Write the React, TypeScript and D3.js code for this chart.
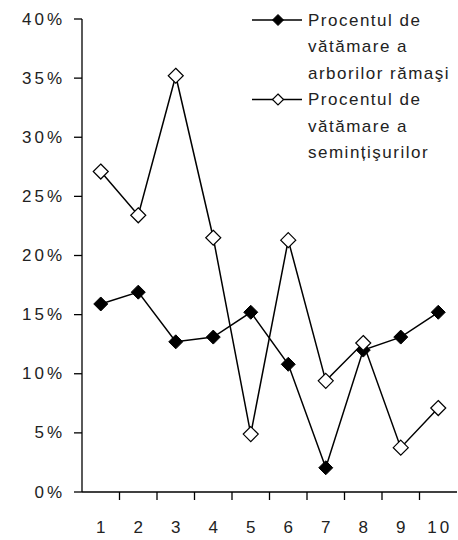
import React from "react";
import * as d3 from "d3";

const categories = ["1", "2", "3", "4", "5", "6", "7", "8", "9", "10"];
const arboriValues = [15.9, 16.9, 12.7, 13.1, 15.2, 10.8, 2.05, 12.0, 13.1, 15.2];
const semintisValues = [27.1, 23.4, 35.2, 21.5, 4.9, 21.3, 9.4, 12.6, 3.75, 7.1];
const yTicks = [0, 5, 10, 15, 20, 25, 30, 35, 40];
const legendSeries1 = ["Procentul de", "vătămare a", "arborilor rămaşi"];
const legendSeries2 = ["Procentul de", "vătămare a", "semințişurilor"];

const W = 458;
const H = 540;
const left = 82;
const right = 457;
const top = 19;
const bottom = 492;
const FONT = "'Liberation Sans', Arial, sans-serif";

export default function App() {
  const x = d3.scaleBand<string>().domain(categories).range([left, right]);
  const y = d3.scaleLinear().domain([0, 40]).range([bottom, top]);
  const cx = (c: string) => (x(c) as number) + x.bandwidth() / 2;

  const line = d3
    .line<number>()
    .x((_, i) => cx(categories[i]))
    .y((d) => y(d));

  const diamond = (px: number, py: number, r: number) =>
    `M${px},${py - r}L${px + r},${py}L${px},${py + r}L${px - r},${py}Z`;

  const legendX = 252;
  const legendTextX = 308;
  const lh = 26.5;
  const leg1Y = 20;
  const leg2Y = leg1Y + lh * 3;

  return (
    <svg
      width={W}
      height={H}
      style={{ position: "absolute", left: 0, top: 0, background: "#fff" }}
    >
      {/* Y axis */}
      <line x1={left} x2={left} y1={top} y2={bottom} stroke="#000" strokeWidth={1.3} />
      {yTicks.map((t) => (
        <g key={t}>
          <line x1={left - 8} x2={left} y1={y(t)} y2={y(t)} stroke="#000" strokeWidth={1.3} />
          <text
            x={65}
            y={y(t)}
            textAnchor="end"
            dominantBaseline="central"
            fontFamily={FONT}
            fontSize={17}
            letterSpacing={3}
            fill="#222"
          >
            {`${t}%`}
          </text>
        </g>
      ))}
      {/* X axis */}
      <line x1={left} x2={right} y1={bottom} y2={bottom} stroke="#000" strokeWidth={1.3} />
      {categories.map((c, i) => (
        <g key={c}>
          <line
            x1={(x(c) as number) + x.bandwidth()}
            x2={(x(c) as number) + x.bandwidth()}
            y1={bottom}
            y2={bottom + 8}
            stroke="#000"
            strokeWidth={1.3}
            opacity={i === categories.length - 1 ? 0 : 1}
          />
          <text
            x={cx(c) + 1.5}
            y={527}
            textAnchor="middle"
            dominantBaseline="central"
            fontFamily={FONT}
            fontSize={17}
            letterSpacing={3}
            fill="#222"
          >
            {c}
          </text>
        </g>
      ))}
      {/* series 1 */}
      <path d={line(arboriValues) || ""} fill="none" stroke="#000" strokeWidth={1.5} />
      {arboriValues.map((v, i) => (
        <path key={i} d={diamond(cx(categories[i]), y(v), 7)} fill="#000" stroke="#000" strokeWidth={1} />
      ))}
      {/* series 2 */}
      <path d={line(semintisValues) || ""} fill="none" stroke="#000" strokeWidth={1.5} />
      {semintisValues.map((v, i) => (
        <path key={i} d={diamond(cx(categories[i]), y(v), 7.5)} fill="#fff" stroke="#000" strokeWidth={1.2} />
      ))}
      {/* legend */}
      <line x1={legendX} x2={legendX + 50} y1={leg1Y} y2={leg1Y} stroke="#000" strokeWidth={1.5} />
      <path d={diamond(legendX + 26, leg1Y, 5.5)} fill="#000" stroke="#000" />
      <line x1={legendX} x2={legendX + 50} y1={leg2Y} y2={leg2Y} stroke="#000" strokeWidth={1.5} />
      <path d={diamond(legendX + 26, leg2Y, 5.5)} fill="#fff" stroke="#000" strokeWidth={1.2} />
      {legendSeries1.map((s, i) => (
        <text
          key={"a" + i}
          x={legendTextX}
          y={leg1Y + i * lh}
          dominantBaseline="central"
          fontFamily={FONT}
          fontSize={17}
          letterSpacing={1.5}
          fill="#222"
        >
          {s}
        </text>
      ))}
      {legendSeries2.map((s, i) => (
        <text
          key={"b" + i}
          x={legendTextX}
          y={leg2Y + i * lh}
          dominantBaseline="central"
          fontFamily={FONT}
          fontSize={17}
          letterSpacing={1.5}
          fill="#222"
        >
          {s}
        </text>
      ))}
    </svg>
  );
}
